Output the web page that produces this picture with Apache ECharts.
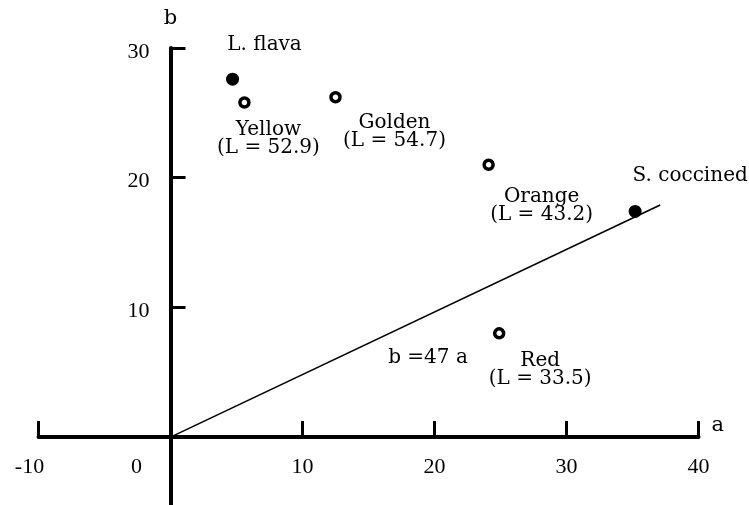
<!DOCTYPE html>
<html><head><meta charset="utf-8">
<script src="https://cdn.jsdelivr.net/npm/echarts/dist/echarts.min.js"></script>
<style>html,body{margin:0;padding:0;background:#fff}#c{width:749px;height:505px}</style>
</head><body><div id="c"></div>
<script>
// ---- data ----
const samples = ['L. flava', 'Yellow', 'Golden', 'Orange', 'Red', 'S. coccined'];
const aValues = [4.7, 5.6, 12.5, 24.1, 24.9, 35.2];
const bValues = [27.6, 25.8, 26.2, 21.0, 8.0, 17.4];
const lightness = [null, 52.9, 54.7, 43.2, 33.5, null];
const isSpecies = [true, false, false, false, false, true];
const fitA = [0, 37.1];
const fitB = [0, 17.9];
const fitLabel = 'b =47 a';
const xAxisName = 'a';
const yAxisName = 'b';

// ---- layout / style (not data) ----
const labelOffsets = [[32, -34], [24, 36], [59, 35], [53, 41], [41, 36], [55, -36]];
const serif = '"DejaVu Serif", serif';
const numFont = '"Liberation Serif", "Times New Roman", serif';
const ink = '#000';

const labelText = (i) => lightness[i] == null ? samples[i] : samples[i] + '\n(L = ' + lightness[i].toFixed(1) + ')';

function pointItem(i) {
  return {
    value: [aValues[i], bValues[i]],
    symbolSize: isSpecies[i] ? 13 : 9,
    itemStyle: isSpecies[i]
      ? { color: ink, borderWidth: 0, opacity: 1 }
      : { color: '#fff', borderColor: ink, borderWidth: 3.5, opacity: 1 },
    label: {
      show: true, position: 'inside', offset: labelOffsets[i],
      formatter: labelText(i), color: ink, fontFamily: serif, fontSize: 20,
      lineHeight: 18, align: 'center', verticalAlign: 'middle'
    }
  };
}

const chart = echarts.init(document.getElementById('c'), null, { renderer: 'canvas' });
chart.setOption({
  animation: false,
  backgroundColor: '#fff',
  grid: { left: 38.5, top: 48, width: 660, height: 518.8, outerBoundsMode: 'none', containLabel: false },
  xAxis: {
    type: 'value', min: -10, max: 40, interval: 10, position: 'bottom', offset: -129.7,
    name: xAxisName, nameLocation: 'end', nameGap: 13,
    nameTextStyle: { fontFamily: serif, fontSize: 21, color: ink, verticalAlign: 'bottom', padding: [0, 0, 1, 0] },
    axisLine: { onZero: false, lineStyle: { color: ink, width: 4 } },
    axisTick: { show: true, inside: true, length: 16, lineStyle: { color: ink, width: 3 } },
    axisLabel: {
      margin: 19, color: ink, fontFamily: numFont, fontSize: 22,
      formatter: (v) => v === 0 ? '{z|0}' : (v === -10 ? '{m|-10}' : String(v)),
      rich: {
        z: { padding: [0, 68, 0, 0], fontFamily: numFont, fontSize: 22, color: ink },
        m: { padding: [0, 18, 0, 0], fontFamily: numFont, fontSize: 22, color: ink }
      }
    },
    splitLine: { show: false }
  },
  yAxis: {
    type: 'value', min: -10, max: 30, interval: 10, position: 'left', offset: -132,
    name: yAxisName, nameLocation: 'end', nameGap: 19,
    nameTextStyle: { fontFamily: serif, fontSize: 21, color: ink },
    axisLine: { onZero: false, lineStyle: { color: ink, width: 4 } },
    axisTick: { show: true, inside: true, length: 15, lineStyle: { color: ink, width: 3 } },
    axisLabel: {
      margin: 21, color: ink, fontFamily: numFont, fontSize: 22,
      formatter: (v) => v > 0 ? '{n|' + v + '}' : '',
      rich: { n: { padding: [8, 0, 0, 0], fontFamily: numFont, fontSize: 22, color: ink } }
    },
    splitLine: { show: false }
  },
  series: [
    {
      type: 'line', data: fitA.map((a, i) => [a, fitB[i]]), symbol: 'none',
      lineStyle: { color: ink, width: 1.6 }, z: 1, silent: true
    },
    {
      type: 'scatter', symbol: 'circle', z: 3,
      data: samples.map((_, i) => pointItem(i))
    }
  ],
  graphic: [
    { type: 'text', x: 428, y: 358, style: { text: fitLabel, font: '20px ' + serif, fill: ink, align: 'center', verticalAlign: 'middle' } }
  ]
});
</script>
</body></html>
